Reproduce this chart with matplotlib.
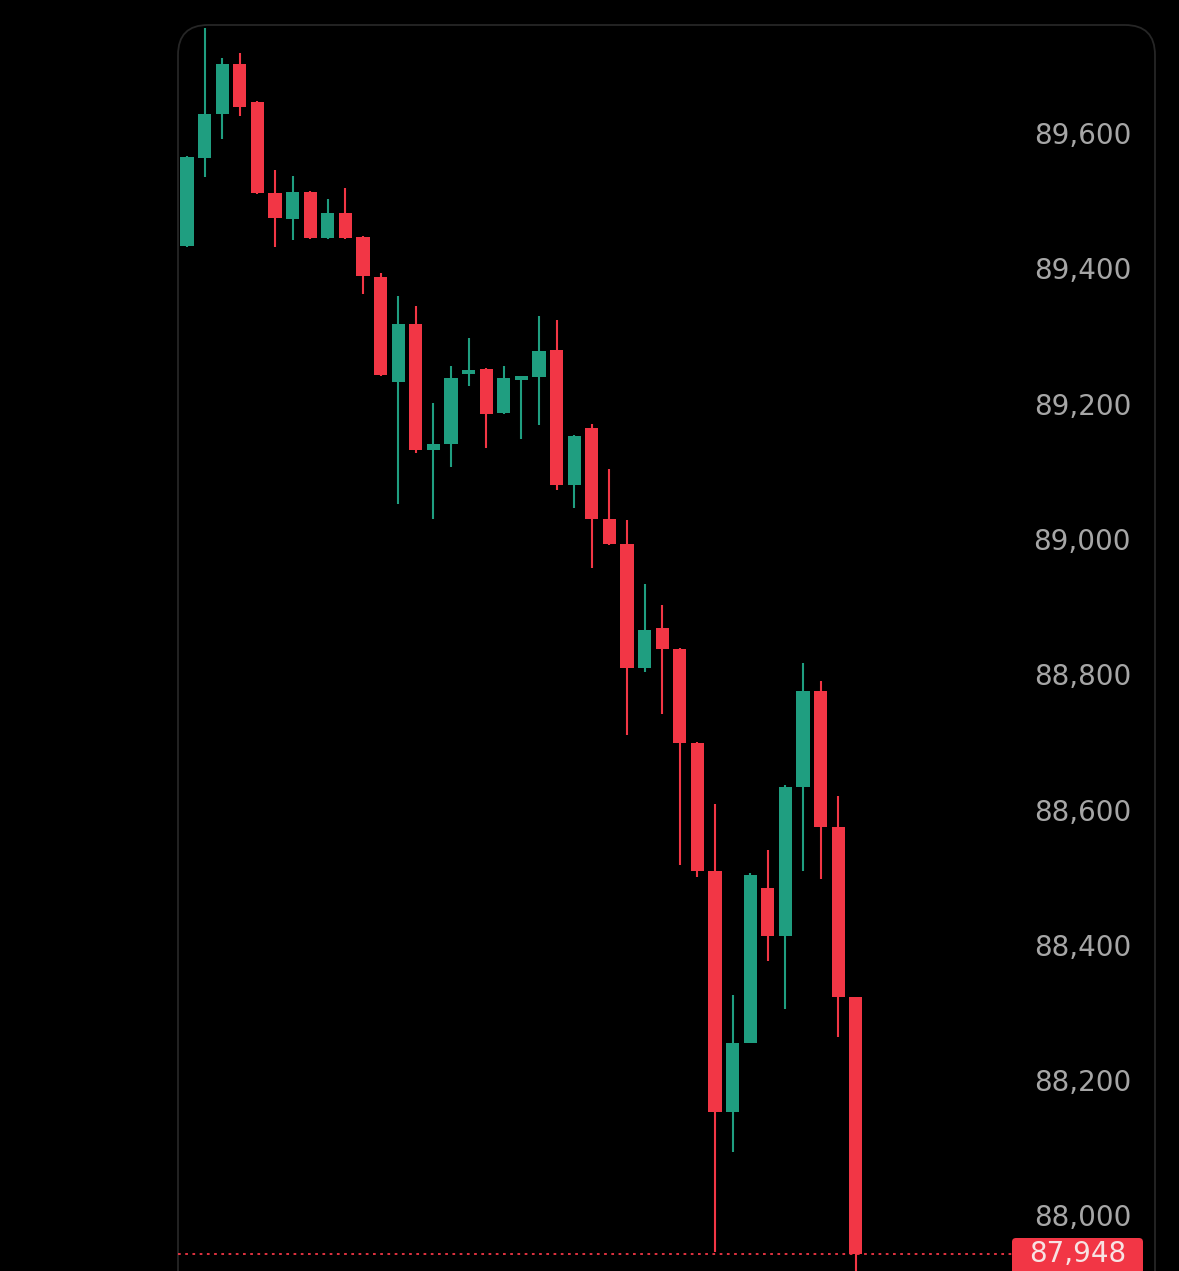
import matplotlib.pyplot as plt
import matplotlib.transforms as mtransforms
from matplotlib.patches import FancyBboxPatch
import numpy as np

# OHLC values (one candle per column)
opens = np.array([89437, 89567, 89632, 89706, 89650, 89516, 89477, 89517, 89449, 89486,
                  89451, 89392, 89237, 89322, 89136, 89144, 89248, 89256, 89191, 89240,
                  89244, 89284, 89084, 89169, 89034, 88997, 88813, 88872, 88842, 88703,
                  88513, 88157, 88260, 88488, 88417, 88637, 88780, 88578, 88327])
highs = np.array([89570, 89759, 89715, 89722, 89652, 89550, 89541, 89518, 89507, 89523,
                  89452, 89398, 89364, 89349, 89206, 89260, 89302, 89257, 89260, 89245,
                  89334, 89328, 89158, 89175, 89108, 89033, 88938, 88906, 88843, 88704,
                  88613, 88330, 88510, 88544, 88640, 88821, 88795, 88625, 88328])
lows = np.array([89436, 89539, 89595, 89629, 89514, 89436, 89446, 89448, 89448, 89448,
                 89367, 89245, 89056, 89132, 89034, 89110, 89231, 89139, 89189, 89152,
                 89173, 89077, 89050, 88962, 88996, 88714, 88807, 88746, 88522, 88504,
                 87951, 88098, 88259, 88380, 88310, 88514, 88501, 88268, 87900])
closes = np.array([89569, 89632, 89706, 89643, 89516, 89479, 89517, 89449, 89486, 89449,
                   89393, 89247, 89322, 89136, 89145, 89243, 89254, 89189, 89243, 89245,
                   89282, 89084, 89157, 89034, 88997, 88814, 88870, 88842, 88703, 88513,
                   88157, 88260, 88508, 88417, 88638, 88780, 88579, 88327, 87948])
tick_values = [89600, 89400, 89200, 89000, 88800, 88600, 88400, 88200, 88000]
last_price = 87948

green = '#1f9e80'
red = '#f23645'

W, H = 1179, 1271
fig = plt.figure(figsize=(W / 100, H / 100), dpi=100, facecolor='black')
ax = fig.add_axes([0, 0, 1, 1])
ax.set_facecolor('black')
ax.axis('off')

# pixel layout: candle 0 at x=187, step 17.6 px; 89,600 at y=135, 0.677 px per unit
step = 17.6
ax.set_xlim(-187 / step, (W - 187) / step)
ax.set_ylim(89600 - (H - 136) / 0.6765, 89600 + 136 / 0.6765)

# panel border with rounded top corners
ident = mtransforms.IdentityTransform()
panel = FancyBboxPatch((178, -40), 1155 - 178, H - 25 + 40,
                       boxstyle='round,pad=0,rounding_size=30',
                       fc='none', ec='#262626', lw=1.3, transform=ident,
                       clip_on=False, zorder=0)
ax.add_patch(panel)

# candles
x = np.arange(len(opens))
colors = np.where(closes >= opens, green, red)
ax.vlines(x, lows, highs, colors=colors, linewidth=1.5, zorder=2)
ax.bar(x, closes - opens, bottom=opens, width=0.75, color=colors, zorder=3)

# price labels on the right
blend = mtransforms.blended_transform_factory(ax.transAxes, ax.transData)
for v in tick_values:
    ax.text(1131 / W, v, f'{v:,}', transform=blend, ha='right', va='center',
            color='#a6a6a6', fontsize=20)

# last price line and tag
ax.axhline(last_price, xmin=178 / W, xmax=1012 / W, color=red, lw=1.3,
           linestyle=(0, (1.5, 2.5)), zorder=1)
tag = FancyBboxPatch((1012, -10), 1143 - 1012, H - 1238 + 10,
                     boxstyle='round,pad=0,rounding_size=4',
                     fc=red, ec='none', transform=ident, clip_on=False, zorder=4)
ax.add_patch(tag)
ax.text(1078 / W, last_price, f'{last_price:,}', transform=blend, ha='center',
        va='center', color='#f7e3e3', fontsize=20, zorder=5)

fig.savefig('out.png', dpi=100, facecolor='black')
